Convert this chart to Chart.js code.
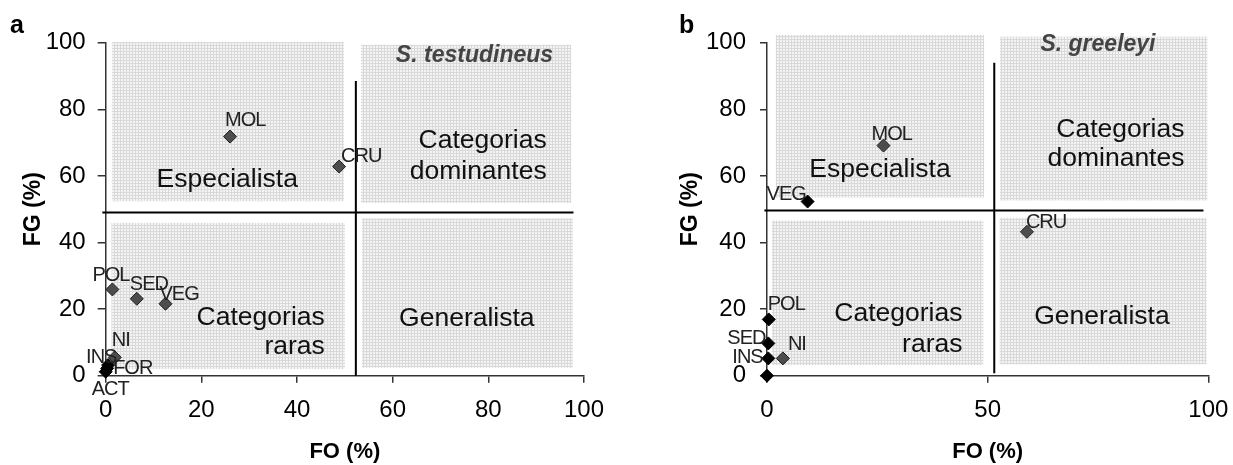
<!DOCTYPE html>
<html>
<head>
<meta charset="utf-8">
<script src="https://cdn.jsdelivr.net/npm/chart.js@4.4.1/dist/chart.umd.min.js"></script>
<style>
  body { margin: 0; background: #fff; width: 1233px; height: 465px; overflow: hidden; position: relative; }
  .panel { position: absolute; top: 0; height: 465px; }
  #pa { left: 0; width: 620px; }
  #pb { left: 620px; width: 626px; }
</style>
</head>
<body>
<div class="panel" id="pa"><canvas id="chartA" width="620" height="465"></canvas></div>
<div class="panel" id="pb"><canvas id="chartB" width="626" height="465"></canvas></div>
<script>
// ---- dados: painel a (S. testudineus) ----
const catsA = ['MOL', 'CRU', 'POL', 'SED', 'VEG', 'NI', 'INS', 'FOR', 'ACT'];
const foA = [26.0, 48.8, 1.4, 6.5, 12.5, 1.9, 0.5, 0.3, 0];
const fgA = [71.8, 62.8, 25.9, 23.1, 21.6, 5.5, 3.2, 2.2, 1.2];

// ---- dados: painel b (S. greeleyi) ----
const catsB = ['MOL', 'VEG', 'CRU', 'POL', 'SED', 'INS', 'NI', ''];
const foB = [26.4, 9.2, 58.9, 0.4, 0.3, 0.3, 3.6, 0];
const fgB = [69.1, 52.3, 43.2, 16.9, 9.7, 5.2, 5.2, 0];

// ticks
const ticksXA = [0, 20, 40, 60, 80, 100];
const ticksXB = [0, 50, 100];
const ticksY = [0, 20, 40, 60, 80, 100];

// limites dos quadrantes [FO, FG]
const divA = [52.3, 49.0];
const divB = [51.5, 49.6];

const FONT = '"Liberation Sans", Arial, Helvetica, sans-serif';
Chart.defaults.font.family = FONT;

// ---- estilo (fora dos dados) ----
const GRAY = '#4d4d4d', BLACK = '#000';
const fillA = [GRAY, GRAY, GRAY, GRAY, GRAY, GRAY, BLACK, BLACK, BLACK];
const fillB = [GRAY, BLACK, GRAY, BLACK, BLACK, BLACK, GRAY, BLACK];
// deslocamento dos rotulos [dx ate a borda esquerda, dy ate o centro], px
const offA = [[-5, -16], [2, -10], [-20, -14], [-7, -14], [-6, -9], [-3, -17], [-22, -8], [6, 0], [-14, 18]];
const offB = [[-12, -11], [-41, -7], [-1, -9], [-1, -15], [-41, -5], [-36, -1], [5, -14], [0, 0]];

// caixas sombreadas [x0, x1, y0, y1] em unidades do eixo
const boxesA = [[1.3, 49.8, 52.4, 100.2], [53.4, 97.3, 51.9, 99.4], [1.2, 50.0, 2.0, 45.9], [53.6, 97.7, 2.4, 47.3]];
const boxesB = [[2.0, 49.2, 53.5, 102.3], [52.8, 99.8, 52.6, 101.8], [1.1, 49.0, 3.2, 46.6], [52.7, 99.6, 3.4, 47.4]];
// extensao das linhas divisorias
const linesA = { v: [0, 88.5], h: [-0.7, 97.8] };
const linesB = { v: [0.7, 94.0], h: [-0.6, 98.9] };

const notesA = [
  { t: 'Especialista', x: 25.4, y: 59.0, align: 'center' },
  { t: 'Categorias', x: 92.2, y: 70.6, align: 'right' },
  { t: 'dominantes', x: 92.2, y: 61.4, align: 'right' },
  { t: 'Categorias', x: 45.8, y: 17.3, align: 'right' },
  { t: 'raras', x: 45.8, y: 8.6, align: 'right' },
  { t: 'Generalista', x: 75.5, y: 17.0, align: 'center' }
];
const notesB = [
  { t: 'Especialista', x: 25.6, y: 61.8, align: 'center' },
  { t: 'Categorias', x: 94.6, y: 74.0, align: 'right' },
  { t: 'dominantes', x: 94.6, y: 65.1, align: 'right' },
  { t: 'Categorias', x: 44.3, y: 18.5, align: 'right' },
  { t: 'raras', x: 44.3, y: 9.3, align: 'right' },
  { t: 'Generalista', x: 75.9, y: 17.8, align: 'center' }
];

function shadePattern(ctx) {
  const c = document.createElement('canvas');
  c.width = 3; c.height = 3;
  const g = c.getContext('2d');
  g.fillStyle = '#f4f4f4'; g.fillRect(0, 0, 3, 3);
  g.fillStyle = '#d9d9d9'; g.fillRect(0, 0, 3, 1); g.fillRect(0, 0, 1, 3);
  return ctx.createPattern(c, 'repeat');
}

function quadPlugin(p) {
  return {
    id: 'quad',
    beforeDatasetsDraw(chart) {
      const { ctx } = chart;
      const x = chart.scales.x, y = chart.scales.y;
      ctx.save();
      ctx.fillStyle = shadePattern(ctx);
      p.boxes.forEach(b => {
        const l = x.getPixelForValue(b[0]), r = x.getPixelForValue(b[1]);
        const t = y.getPixelForValue(b[3]), bt = y.getPixelForValue(b[2]);
        ctx.fillRect(l, t, r - l, bt - t);
      });
      // linhas divisorias
      ctx.strokeStyle = '#000';
      ctx.lineWidth = 2;
      ctx.beginPath();
      const vx = x.getPixelForValue(p.div[0]);
      ctx.moveTo(vx, y.getPixelForValue(p.lines.v[0]));
      ctx.lineTo(vx, y.getPixelForValue(p.lines.v[1]));
      const hy = y.getPixelForValue(p.div[1]);
      ctx.moveTo(x.getPixelForValue(p.lines.h[0]), hy);
      ctx.lineTo(x.getPixelForValue(p.lines.h[1]), hy);
      ctx.stroke();
      // textos dos quadrantes
      ctx.fillStyle = '#111';
      ctx.font = '26.5px ' + FONT;
      ctx.textBaseline = 'middle';
      p.notes.forEach(n => {
        ctx.textAlign = n.align;
        ctx.fillText(n.t, x.getPixelForValue(n.x), y.getPixelForValue(n.y));
      });
      // especie
      ctx.fillStyle = '#444';
      ctx.font = 'italic bold 23px ' + FONT;
      ctx.textAlign = 'center';
      ctx.fillText(p.species[0], x.getPixelForValue(p.species[1]), y.getPixelForValue(p.species[2]));
      // letra do painel
      ctx.fillStyle = '#000';
      ctx.font = 'bold 25px ' + FONT;
      ctx.textAlign = 'left';
      ctx.textBaseline = 'alphabetic';
      ctx.fillText(p.letter[0], p.letter[1], p.letter[2]);
      ctx.restore();
    },
    afterDatasetsDraw(chart) {
      const { ctx } = chart;
      const meta = chart.getDatasetMeta(0);
      ctx.save();
      ctx.fillStyle = '#222';
      ctx.font = '20px ' + FONT;
      if ('letterSpacing' in ctx) ctx.letterSpacing = '-1px';
      ctx.textAlign = 'left';
      ctx.textBaseline = 'middle';
      meta.data.forEach((pt, i) => {
        const lab = p.cats[i];
        if (!lab) return;
        ctx.fillText(lab, pt.x + p.off[i][0], pt.y + p.off[i][1]);
      });
      ctx.restore();
    }
  };
}

function makeChart(id, p) {
  const axisCol = '#333';
  return new Chart(document.getElementById(id), {
    type: 'scatter',
    data: {
      datasets: [{
        data: p.fo.map((v, i) => ({ x: v, y: p.fg[i] })),
        pointStyle: 'rectRot',
        pointRadius: 6.5,
        backgroundColor: p.fill,
        borderColor: p.fill.map(c => (c === BLACK ? BLACK : '#1e1e1e')),
        borderWidth: 1,
        clip: false
      }]
    },
    options: {
      responsive: false,
      animation: false,
      events: [],
      layout: { padding: { left: 0, right: p.padRight, top: 42.7, bottom: 0 } },
      plugins: { legend: { display: false }, tooltip: { enabled: false } },
      scales: {
        x: {
          type: 'linear', min: 0, max: 100,
          afterBuildTicks: s => { s.ticks = p.ticksX.map(v => ({ value: v })); },
          afterFit: s => { s.height = 89.3; },
          grid: { drawOnChartArea: false, drawTicks: true, tickLength: 7, color: axisCol, lineWidth: 1.5 },
          border: { display: true, color: axisCol, width: 1.5 },
          ticks: { color: '#000', font: { size: 24 }, padding: 13, maxRotation: 0 },
          title: { display: true, text: 'FO (%)', color: '#000', font: { size: 22, weight: 'bold' }, padding: { top: 0, bottom: 0 } }
        },
        y: {
          type: 'linear', min: 0, max: 100,
          afterBuildTicks: s => { s.ticks = ticksY.map(v => ({ value: v })); },
          afterFit: s => { s.width = p.yWidth; },
          grid: { drawOnChartArea: false, drawTicks: true, tickLength: p.yTick, color: axisCol, lineWidth: 1.5 },
          border: { display: true, color: axisCol, width: 1.5 },
          ticks: { color: '#000', font: { size: 24 }, padding: p.yPad },
          title: { display: true, text: 'FG (%)', color: '#000', font: { size: 23, weight: 'bold' }, padding: { top: p.yTitle, bottom: 0 } }
        }
      }
    },
    plugins: [quadPlugin(p)]
  });
}

makeChart('chartA', {
  fo: foA, fg: fgA, cats: catsA, fill: fillA, off: offA, ticksX: ticksXA,
  div: divA, boxes: boxesA, lines: linesA, notes: notesA,
  species: ['S. testudineus', 77.1, 96.2], letter: ['a', 10, 33],
  padRight: 36, yWidth: 105.7, yTick: 8, yPad: 12, yTitle: 20.2
});
// canvas b passa um pouco da janela: o rotulo "100" pede folga a direita
makeChart('chartB', {
  fo: foB, fg: fgB, cats: catsB, fill: fillB, off: offB, ticksX: ticksXB,
  div: divB, boxes: boxesB, lines: linesB, notes: notesB,
  species: ['S. greeleyi', 75.0, 99.3], letter: ['b', 59, 33],
  padRight: 37.7, yWidth: 147, yTick: 7, yPad: 14, yTitle: 56.7
});
</script>
</body>
</html>
